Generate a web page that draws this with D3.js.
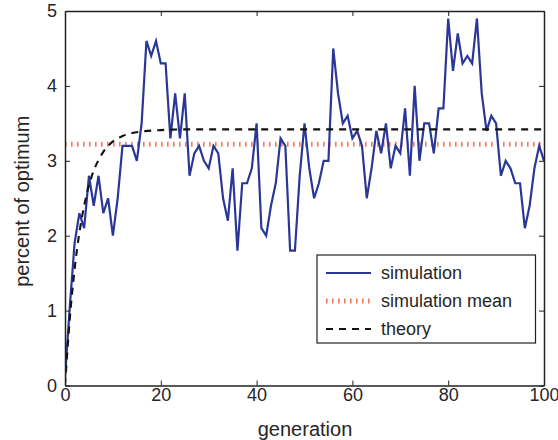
<!DOCTYPE html>
<html><head><meta charset="utf-8">
<script src="https://cdn.jsdelivr.net/npm/d3@7"></script>
<style>
body{margin:0;background:#fff;}
svg{display:block;font-family:"Liberation Sans",Arial,Helvetica,sans-serif;}
</style></head>
<body>
<svg id="chart" width="558" height="440"></svg>
<script>
// Simulation: one value per generation 0..100
const simulation = [
  0.1, 1.05, 1.9, 2.3, 2.1, 2.8, 2.4, 2.8, 2.3, 2.5,
  2.0, 2.5, 3.2, 3.2, 3.2, 3.0, 3.5, 4.6, 4.4, 4.6,
  4.3, 4.3, 3.3, 3.9, 3.3, 3.9, 2.8, 3.1, 3.2, 3.0,
  2.9, 3.2, 3.1, 2.5, 2.2, 2.9, 1.8, 2.7, 2.7, 2.9,
  3.5, 2.1, 2.0, 2.4, 2.7, 3.3, 3.2, 1.8, 1.8, 2.8,
  3.5, 2.9, 2.5, 2.7, 3.0, 3.0, 4.5, 3.9, 3.5, 3.6,
  3.3, 3.4, 3.2, 2.5, 2.9, 3.4, 3.1, 3.5, 2.9, 3.2,
  3.1, 3.7, 2.8, 4.0, 3.0, 3.5, 3.5, 3.1, 3.7, 3.7,
  4.9, 4.2, 4.7, 4.3, 4.4, 4.3, 4.9, 3.9, 3.4, 3.6,
  3.5, 2.8, 3.0, 2.9, 2.7, 2.7, 2.1, 2.4, 2.9, 3.2,
  3.0
];
const simulationMean = 3.22;
const theoryGen = [0, 1, 2, 3, 4, 5, 6, 7, 8, 10, 12, 14, 16, 20, 25, 30, 40, 50, 60, 70, 80, 90, 100];
const theoryVal = [0, 0.89, 1.55, 2.04, 2.40, 2.67, 2.87, 3.01, 3.12, 3.26, 3.33, 3.37, 3.39, 3.41, 3.42, 3.42, 3.42, 3.42, 3.42, 3.42, 3.42, 3.42, 3.42];
const xTicks = [0, 20, 40, 60, 80, 100];
const yTicks = [0, 1, 2, 3, 4, 5];
const legendLabels = ["simulation", "simulation mean", "theory"];

const svg = d3.select("#chart");
const L = 65, R = 544, T = 11, B = 385.5;
const x = d3.scaleLinear().domain([0, 100]).range([L, R]);
const y = d3.scaleLinear().domain([0, 5]).range([B, T]);

const textColor = "#262626";
const axisColor = "#222";

// Plot clip
svg.append("defs").append("clipPath").attr("id", "clip")
  .append("rect").attr("x", L).attr("y", T).attr("width", R - L).attr("height", B - T);

const plot = svg.append("g").attr("clip-path", "url(#clip)");

// mean line
plot.append("line")
  .attr("x1", x(0)).attr("x2", x(100))
  .attr("y1", y(simulationMean)).attr("y2", y(simulationMean))
  .attr("stroke", "#f27c62").attr("stroke-width", 5)
  .attr("stroke-dasharray", "1.6,4.4");

// simulation line
const simLine = d3.line().x((d, i) => x(i)).y(d => y(d));
plot.append("path").datum(simulation)
  .attr("d", simLine)
  .attr("fill", "none").attr("stroke", "#2b3796").attr("stroke-width", 2.2)
  .attr("stroke-linejoin", "miter");

// theory line
const thLine = d3.line().x(d => x(d[0])).y(d => y(d[1])).curve(d3.curveMonotoneX);
plot.append("path").datum(theoryGen.map((g, i) => [g, theoryVal[i]]))
  .attr("d", thLine)
  .attr("fill", "none").attr("stroke", "#111").attr("stroke-width", 2.1)
  .attr("stroke-dasharray", "7,6");

// Axes
const tickLen = 5;
const fmt = d3.format("d");
const xAxisB = d3.axisBottom(x).tickValues(xTicks).tickFormat(fmt).tickSizeInner(-tickLen).tickSizeOuter(0).tickPadding(3);
const xAxisT = d3.axisTop(x).tickValues(xTicks).tickSizeInner(-tickLen).tickSizeOuter(0).tickFormat("");
const yAxisL = d3.axisLeft(y).tickValues(yTicks).tickFormat(fmt).tickSizeInner(-tickLen).tickSizeOuter(0).tickPadding(8);
const yAxisR = d3.axisRight(y).tickValues(yTicks).tickSizeInner(-tickLen).tickSizeOuter(0).tickFormat("");

function style(g) {
  g.select(".domain").attr("stroke", axisColor).attr("stroke-width", 1.5);
  g.selectAll(".tick line").attr("stroke", axisColor).attr("stroke-width", 1);
  g.selectAll(".tick text").attr("fill", textColor).attr("font-size", 18)
    .attr("font-family", "Liberation Sans, Arial, sans-serif");
}
svg.append("g").attr("transform", `translate(0,${B})`).call(xAxisB).call(style);
svg.append("g").attr("transform", `translate(0,${T})`).call(xAxisT).call(style);
svg.append("g").attr("transform", `translate(${L},0)`).call(yAxisL).call(style);
svg.append("g").attr("transform", `translate(${R},0)`).call(yAxisR).call(style);

// Axis labels
svg.append("text").attr("x", (L + R) / 2 + 0.5).attr("y", 436)
  .attr("text-anchor", "middle").attr("fill", textColor).attr("font-size", 20)
  .text("generation");
svg.append("text").attr("transform", `translate(29,${(T + B) / 2 + 3}) rotate(-90)`)
  .attr("text-anchor", "middle").attr("fill", textColor).attr("font-size", 20)
  .text("percent of optimum");

// Legend
const lg = svg.append("g");
lg.append("rect").attr("x", 317).attr("y", 255).attr("width", 218.5).attr("height", 88)
  .attr("fill", "#fff").attr("stroke", "#222").attr("stroke-width", 1.2);
const rowY = [273, 301, 329];
const styles = [
  {stroke: "#2b3796", w: 2.2, dash: null},
  {stroke: "#f27c62", w: 5, dash: "1.6,4.4"},
  {stroke: "#111", w: 2.1, dash: "7,6"}
];
legendLabels.forEach((lab, i) => {
  const s = styles[i];
  const ln = lg.append("line").attr("x1", 326).attr("x2", 371)
    .attr("y1", rowY[i]).attr("y2", rowY[i])
    .attr("stroke", s.stroke).attr("stroke-width", s.w);
  if (s.dash) ln.attr("stroke-dasharray", s.dash);
  lg.append("text").attr("x", 381).attr("y", rowY[i]).attr("dy", "0.35em")
    .attr("fill", textColor).attr("font-size", 18).text(lab);
});
</script>
</body></html>
